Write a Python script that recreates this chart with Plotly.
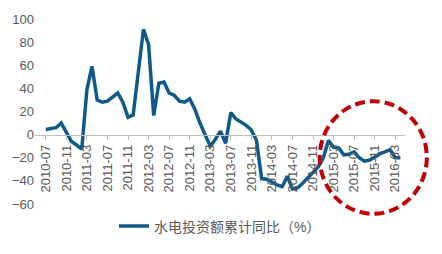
import plotly.graph_objects as go

# Monthly categories 2010-07 .. 2016-04
months = []
y0, m0 = 2010, 7
for i in range(70):
    yy = y0 + (m0 - 1 + i) // 12
    mm = (m0 - 1 + i) % 12 + 1
    months.append(f"{yy}-{mm:02d}")

values = [4.5, 5.5, 6, 10, 2, -6, -9, -12.5, 39, 59,
          30, 28, 29, 33, 36, 28, 15, 17, 54, 91,
          78, 16.5, 44.5, 45.5, 36, 34, 29, 28, 31, 22,
          10, -1, -10, -4, 3, -7.5, 19, 13.5, 11, 8,
          4, -5, -38, -38.5, -41, -43.5, -45, -36, -47, -46,
          -42, -37, -33, -28, -20, -5, -11, -11.5, -17.5, -17,
          -15, -20, -23, -22, -19.5, -16.5, -15, -13, -20, -20]

tick_labels = months[::4]
series_name = "水电投资额累计同比（%）"

idx = list(range(len(months)))

fig = go.Figure()
fig.add_trace(go.Scatter(
    x=idx, y=values, mode="lines", name=series_name,
    line=dict(color="#0F5A8A", width=3.5),
))

L, R, T, B = 32, 405, 18, 207
W, H = 442, 254
pw, ph = R - L, B - T

def px_x(p):
    return (p - L) / pw

def px_y(p):
    return (B - p) / ph

# red dashed circle highlight
fig.add_shape(type="circle", xref="paper", yref="paper",
              x0=px_x(319), x1=px_x(427), y0=px_y(217), y1=px_y(102),
              line=dict(color="#C00000", width=4, dash="10px,5px"))

fig.update_layout(
    width=W, height=H,
    margin=dict(l=L, r=W - R, t=T, b=H - B),
    paper_bgcolor="white", plot_bgcolor="white",
    font=dict(family="Liberation Sans, Arial, Noto Sans CJK SC", color="#595959", size=13),
    showlegend=True,
    legend=dict(orientation="h", x=0.5, xanchor="center", y=px_y(230), yanchor="middle",
                font=dict(family="Liberation Sans, Noto Sans CJK SC", size=14, color="#595959"),
                bgcolor="rgba(0,0,0,0)"),
    xaxis=dict(range=[-2.1, 69.9], tickvals=idx[::4], ticktext=tick_labels,
               tickangle=-90, showgrid=False, zeroline=False,
               showline=True, linecolor="#BFBFBF", linewidth=1,
               ticks="outside", ticklen=4, tickcolor="#BFBFBF",
               anchor="free", position=(0 - (-60)) / 160,
               tickfont=dict(size=13, color="#595959")),
    yaxis=dict(range=[-60, 100], tickvals=[-60, -40, -20, 0, 20, 40, 60, 80, 100],
               showgrid=False, zeroline=False, showline=False,
               tickfont=dict(size=13, color="#595959")),
)

fig.write_html("out.html")
